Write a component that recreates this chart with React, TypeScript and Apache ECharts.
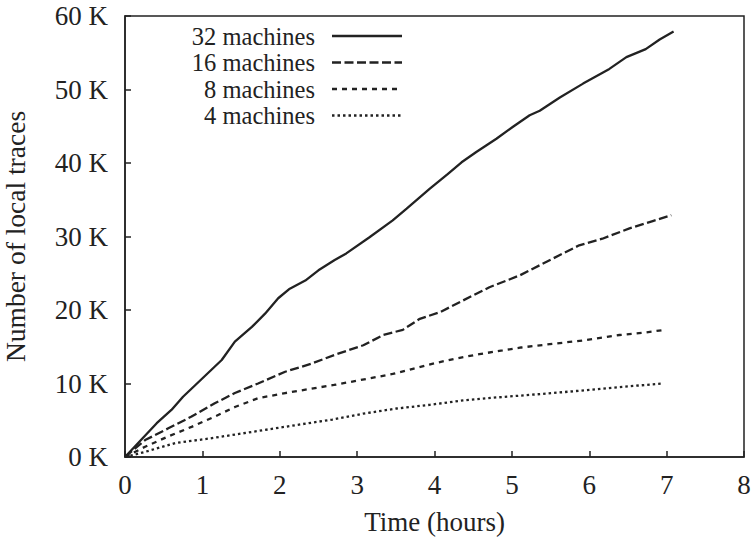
import React, { useEffect, useRef } from "react";
import * as echarts from "echarts";

const FONT = "'Liberation Serif', 'Times New Roman', serif";
const INK = "#222222";

const seriesNames = ["32 machines", "16 machines", "8 machines", "4 machines"];

const t32 = [0, 0.41, 0.6, 0.75, 0.91, 1.25, 1.42, 1.64, 1.81, 1.98, 2.13, 2.33, 2.5, 2.71, 2.86, 3.16, 3.46, 3.64, 3.94, 4.17, 4.35, 4.54, 4.8, 5.01, 5.23, 5.36, 5.62, 5.92, 6.26, 6.48, 6.73, 6.91, 7.09];
const v32 = [0, 4.6, 6.4, 8.2, 9.8, 13.2, 15.7, 17.7, 19.5, 21.6, 22.9, 24, 25.4, 26.8, 27.7, 29.9, 32.2, 33.8, 36.5, 38.5, 40.1, 41.5, 43.3, 44.9, 46.5, 47.1, 48.9, 50.8, 52.8, 54.4, 55.5, 56.8, 57.9];

const t16 = [0, 0.26, 0.56, 0.86, 1.16, 1.42, 1.72, 2.07, 2.41, 2.71, 3.08, 3.34, 3.59, 3.81, 4.07, 4.35, 4.71, 5.1, 5.53, 5.87, 6.17, 6.52, 6.82, 7.06];
const v16 = [0, 2.3, 3.9, 5.5, 7.3, 8.7, 10, 11.6, 12.7, 13.9, 15.2, 16.6, 17.3, 18.8, 19.7, 21.2, 23.1, 24.7, 27, 28.8, 29.7, 31.1, 32.1, 32.9];

const t8 = [0, 0.26, 0.56, 0.86, 1.16, 1.42, 1.72, 2.07, 2.41, 2.7, 3.16, 3.46, 3.72, 4.02, 4.28, 4.58, 4.88, 5.12, 5.53, 5.96, 6.39, 6.69, 6.98];
const v8 = [0, 1.4, 2.8, 4.1, 5.5, 6.8, 8, 8.7, 9.3, 9.8, 10.7, 11.3, 12, 12.8, 13.4, 14, 14.5, 14.9, 15.4, 15.9, 16.6, 16.9, 17.3];

const t4 = [0, 0.26, 0.65, 1.08, 1.51, 1.94, 2.37, 2.68, 3.08, 3.51, 3.94, 4.37, 4.8, 5.17, 5.53, 5.96, 6.39, 6.94];
const v4 = [0, 0.7, 1.9, 2.5, 3.2, 3.9, 4.6, 5.1, 5.9, 6.6, 7.1, 7.7, 8.1, 8.4, 8.7, 9.1, 9.5, 10];

const xTicks = { min: 0, max: 8, interval: 1 };
const yTicks = { min: 0, max: 60, interval: 10 };

const dashes: (number[] | null)[] = [null, [9, 3.5], [5, 5], [2.5, 3]];

const zip = (xs: number[], ys: number[]) => xs.map((x, i) => [x, ys[i]]);

export default function App() {
  const ref = useRef<HTMLDivElement>(null);
  useEffect(() => {
    document.body.style.margin = "0";
    if (!ref.current) return;
    const chart = echarts.init(ref.current, null, { renderer: "svg" });
    const data = [zip(t32, v32), zip(t16, v16), zip(t8, v8), zip(t4, v4)];
    const rowY = [36, 62.5, 89, 115.5];
    const legendGraphics: any[] = [];
    seriesNames.forEach((name, i) => {
      legendGraphics.push({
        type: "text",
        x: 315,
        y: rowY[i],
        style: {
          text: name,
          fill: INK,
          font: `24.5px ${FONT}`,
          lineHeight: 24,
          align: "right",
          verticalAlign: "middle",
        },
      });
      legendGraphics.push({
        type: "line",
        shape: { x1: 332, y1: rowY[i], x2: 402, y2: rowY[i] },
        style: {
          stroke: INK,
          lineWidth: 2.3,
          lineDash: dashes[i] || undefined,
        },
      });
    });
    chart.setOption({
      animation: false,
      backgroundColor: "#ffffff",
      grid: {
        left: 125,
        right: 12,
        top: 16,
        bottom: 82,
        containLabel: false,
        outerBoundsMode: "none",
        show: true,
        borderColor: INK,
        borderWidth: 1.5,
        backgroundColor: "transparent",
      },
      xAxis: {
        type: "value",
        min: xTicks.min,
        max: xTicks.max,
        interval: xTicks.interval,
        name: "Time (hours)",
        nameLocation: "middle",
        nameGap: 51,
        nameTextStyle: { fontFamily: FONT, fontSize: 27, color: INK },
        axisLine: { show: true, lineStyle: { color: INK, width: 1.5 } },
        axisTick: { show: true, inside: true, length: 6, lineStyle: { color: INK, width: 1.5 } },
        axisLabel: { fontFamily: FONT, fontSize: 27, color: INK, margin: 14 },
        splitLine: { show: false },
      },
      yAxis: {
        type: "value",
        min: yTicks.min,
        max: yTicks.max,
        interval: yTicks.interval,
        name: "Number of local traces",
        nameLocation: "middle",
        nameGap: 96,
        nameTextStyle: { fontFamily: FONT, fontSize: 27.5, color: INK },
        axisLine: { show: true, lineStyle: { color: INK, width: 1.5 } },
        axisTick: { show: true, inside: true, length: 6, lineStyle: { color: INK, width: 1.5 } },
        axisLabel: {
          fontFamily: FONT,
          fontSize: 27,
          color: INK,
          margin: 17,
          formatter: (v: number) => `${v} K`,
        },
        splitLine: { show: false },
      },
      series: seriesNames.map((name, i) => ({
        name,
        type: "line",
        data: data[i],
        showSymbol: false,
        symbol: "none",
        lineStyle: { color: INK, width: 2.3, type: dashes[i] || "solid" },
        z: 3,
      })),
      graphic: legendGraphics,
    });
    return () => chart.dispose();
  }, []);
  return <div ref={ref} style={{ width: 756, height: 539 }} />;
}
